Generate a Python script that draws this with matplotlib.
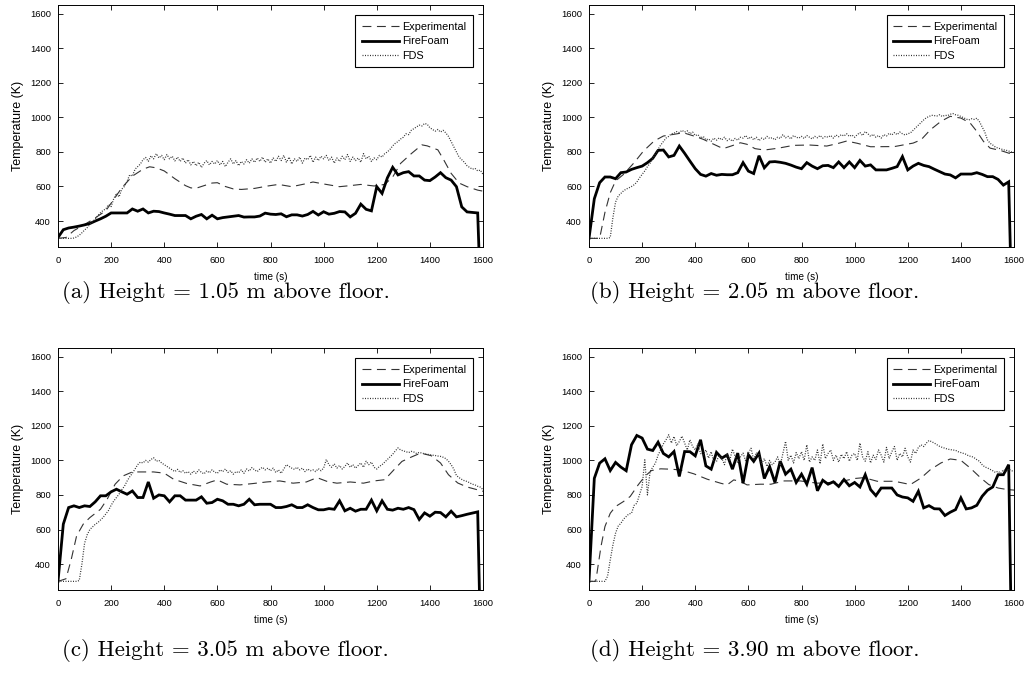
import numpy as np
import matplotlib
matplotlib.use("Agg")
import matplotlib.pyplot as plt

plt.rcParams['font.family'] = ['Liberation Sans', 'DejaVu Sans']

# experimental thermocouple readings (time s, temperature K)
exp_a_t = [0, 30, 60, 100, 140, 180, 210, 240, 280, 320, 345, 370, 400, 440, 480, 500, 520, 550, 580, 600,
           630, 660, 690, 740, 790, 830, 880, 930, 960, 1010, 1060, 1100, 1140, 1190, 1230, 1260, 1290, 1330, 1370, 1390,
           1430, 1450, 1480, 1510, 1540, 1580, 1600]
exp_a = [300, 305, 345, 380, 418, 460, 525, 592, 660, 700, 714, 708, 690, 645, 605, 592, 590, 605, 620, 622,
         600, 586, 583, 589, 603, 612, 599, 615, 626, 612, 599, 605, 612, 603, 612, 655, 734, 790, 841, 835,
         812, 760, 676, 620, 599, 579, 573]

exp_b_t = [0, 40, 60, 80, 100, 130, 170, 205, 245, 280, 320, 355, 395, 430, 470, 505, 535, 570, 595, 625,
           660, 710, 770, 830, 895, 940, 970, 1010, 1060, 1150, 1220, 1250, 1285, 1325, 1360, 1400, 1435, 1460, 1485, 1510,
           1550, 1600]
exp_b = [300, 300, 450, 564, 632, 670, 738, 805, 863, 892, 902, 911, 892, 873, 844, 819, 834, 853, 844, 819,
         811, 821, 838, 840, 834, 850, 863, 850, 830, 831, 851, 870, 928, 977, 1006, 996, 967, 919, 861, 822,
         808, 783]

exp_c_t = [0, 30, 50, 70, 95, 120, 160, 185, 215, 245, 280, 310, 360, 400, 435, 485, 535, 575, 600, 635,
           685, 735, 785, 835, 885, 935, 975, 1015, 1050, 1100, 1150, 1190, 1230, 1265, 1295, 1330, 1365, 1405, 1440, 1470,
           1505, 1540, 1600]
exp_c = [300, 315, 428, 563, 631, 669, 717, 775, 862, 910, 933, 933, 933, 926, 891, 866, 852, 875, 887, 862,
         858, 866, 875, 881, 868, 875, 900, 877, 868, 875, 868, 881, 888, 946, 994, 1019, 1042, 1027, 985, 917,
         869, 846, 821]

exp_d_t = [0, 25, 30, 45, 60, 80, 100, 130, 155, 185, 210, 235, 270, 305, 345, 395, 445, 495, 520, 545,
           570, 595, 645, 685, 735, 795, 860, 910, 960, 1000, 1035, 1085, 1150, 1210, 1250, 1285, 1325, 1360, 1400, 1435,
           1475, 1505, 1540, 1575, 1600]
exp_d = [300, 300, 347, 501, 617, 694, 733, 762, 791, 858, 907, 941, 951, 949, 945, 922, 891, 868, 858, 887,
         878, 858, 862, 862, 881, 881, 868, 872, 881, 895, 900, 879, 879, 860, 898, 946, 985, 1008, 1000, 956,
         898, 860, 840, 831, 828]

# FireFoam output every 20 s (0..1580 s), last sample at 1590 s drops off
ff_t = list(range(0, 1600, 20)) + [1590]
ff_a = [305, 350, 360, 365, 371, 378, 386, 400, 413, 428,
        447, 447, 447, 447, 470, 457, 470, 447, 457, 455,
        447, 440, 432, 432, 432, 413, 428, 438, 413, 434,
        413, 420, 424, 428, 432, 423, 424, 424, 429, 446,
        440, 438, 442, 425, 436, 436, 429, 438, 456, 435,
        454, 440, 445, 455, 453, 424, 445, 498, 468, 459,
        599, 560, 650, 711, 667, 680, 686, 661, 661, 637,
        634, 655, 680, 651, 637, 599, 482, 453, 450, 447,
        0]
ff_b = [300, 529, 622, 655, 655, 645, 680, 684, 699, 709,
        718, 738, 763, 809, 811, 771, 780, 834, 792, 747,
        703, 670, 660, 675, 665, 670, 668, 668, 680, 738,
        689, 675, 778, 708, 742, 744, 740, 734, 724, 712,
        703, 738, 718, 703, 720, 722, 709, 742, 709, 742,
        709, 751, 718, 725, 696, 696, 696, 705, 715, 773,
        696, 718, 734, 722, 715, 700, 686, 672, 667, 650,
        672, 672, 672, 680, 670, 657, 657, 641, 608, 627,
        0]
ff_c = [300, 631, 727, 737, 727, 737, 733, 760, 795, 795,
        818, 833, 818, 804, 823, 785, 785, 875, 781, 800,
        795, 760, 795, 795, 770, 770, 770, 789, 752, 756,
        775, 766, 746, 746, 737, 746, 775, 743, 746, 746,
        746, 727, 727, 733, 743, 727, 727, 743, 727, 714,
        714, 721, 717, 766, 708, 723, 706, 717, 717, 770,
        708, 766, 717, 712, 723, 717, 727, 715, 658, 696,
        677, 700, 698, 673, 706, 673, 680, 688, 695, 702,
        0]
ff_d = [300, 896, 984, 1009, 941, 988, 961, 940, 1090, 1144,
        1129, 1065, 1057, 1105, 1040, 1020, 1051, 907, 1051, 1050,
        1026, 1119, 968, 949, 1046, 1013, 1032, 949, 1042, 868,
        1032, 994, 1042, 895, 964, 872, 995, 920, 949, 872,
        920, 862, 958, 824, 885, 862, 876, 849, 889, 853,
        872, 846, 917, 831, 796, 840, 840, 840, 800, 788,
        783, 763, 821, 725, 738, 720, 719, 681, 700, 715,
        783, 719, 725, 740, 792, 827, 846, 917, 917, 975,
        0]

# FDS device output every 10 s (0..1600 s)
fds_a = [300, 300, 300, 300, 300, 300, 302, 308, 318, 332,
         348, 362, 380, 398, 410, 432, 448, 462, 470, 495,
         484, 530, 560, 540, 585, 600, 630, 668, 660, 700,
         715, 730, 755, 768, 745, 778, 760, 790, 765, 780,
         755, 785, 760, 775, 748, 770, 745, 765, 735, 755,
         725, 745, 720, 740, 710, 735, 750, 725, 745, 730,
         750, 725, 745, 715, 740, 760, 730, 750, 720, 745,
         730, 755, 735, 760, 740, 765, 745, 770, 740, 760,
         735, 765, 745, 775, 750, 780, 740, 770, 730, 760,
         745, 770, 735, 765, 755, 780, 740, 770, 750, 775,
         760, 780, 750, 770, 735, 765, 745, 775, 755, 785,
         745, 770, 750, 765, 740, 790, 760, 775, 745, 765,
         755, 780, 770, 790, 800, 815, 835, 850, 860, 875,
         885, 905, 900, 925, 935, 945, 955, 950, 965, 960,
         940, 930, 920, 930, 915, 925, 910, 890, 860, 830,
         800, 770, 755, 740, 720, 710, 700, 705, 690, 695,
         670]
fds_b = [300, 300, 300, 300, 300, 300, 300, 300, 305, 420,
         510, 545, 560, 575, 585, 592, 600, 610, 625, 650,
         670, 690, 715, 735, 760, 790, 815, 840, 860, 880,
         890, 905, 908, 918, 912, 925, 915, 922, 905, 915,
         895, 900, 880, 890, 870, 875, 862, 880, 868, 882,
         870, 885, 865, 875, 862, 878, 868, 885, 880, 895,
         875, 888, 870, 885, 865, 880, 872, 890, 878, 882,
         870, 885, 878, 900, 882, 890, 875, 895, 885, 880,
         890, 878, 895, 885, 875, 890, 882, 895, 880, 890,
         885, 895, 880, 898, 888, 900, 892, 905, 890, 898,
         885, 900, 912, 895, 918, 905, 890, 902, 885, 895,
         880, 900, 892, 908, 898, 912, 900, 915, 905, 898,
         905, 910, 925, 940, 955, 970, 985, 998, 1005, 1012,
         1010, 1008, 1015, 1005, 1012, 1010, 1018, 1022, 1015, 1012,
         1005, 998, 990, 985, 992, 988, 995, 975, 945, 915,
         870, 850, 840, 828, 822, 818, 812, 810, 805, 800,
         797]
fds_c = [300, 300, 300, 300, 300, 300, 300, 300, 305, 400,
         520, 570, 600, 615, 630, 640, 655, 670, 690, 710,
         740, 765, 785, 805, 830, 850, 880, 905, 925, 950,
         975, 990, 985, 1000, 990, 1005, 1015, 995, 1000, 985,
         975, 965, 955, 945, 935, 948, 930, 940, 925, 935,
         920, 938, 925, 945, 930, 922, 940, 928, 945, 932,
         925, 945, 935, 950, 930, 940, 920, 935, 928, 945,
         925, 950, 938, 958, 945, 935, 950, 960, 945, 955,
         940, 955, 930, 945, 925, 950, 975, 965, 955, 948,
         960, 945, 955, 935, 950, 940, 945, 935, 952, 940,
         955, 1005, 975, 960, 980, 955, 970, 950, 965, 985,
         960, 975, 955, 970, 985, 960, 995, 975, 990, 960,
         950, 965, 975, 990, 1005, 1020, 1035, 1055, 1072, 1060,
         1055, 1050, 1045, 1052, 1048, 1040, 1046, 1042, 1038, 1035,
         1033, 1030, 1028, 1025, 1023, 1018, 1010, 995, 975, 950,
         912, 900, 890, 882, 878, 870, 862, 858, 850, 845,
         831]
fds_d = [300, 300, 300, 300, 300, 300, 300, 330, 424, 510,
         579, 620, 636, 660, 675, 690, 694, 740, 752, 800,
         849, 1003, 800, 936, 960, 984, 1030, 1061, 1095, 1119,
         1148, 1100, 1138, 1085, 1109, 1140, 1100, 1060, 1119, 1080,
         1061, 1095, 1040, 1032, 1060, 1013, 1050, 990, 994, 1030,
         1013, 975, 1042, 1000, 1065, 1023, 985, 1020, 1042, 995,
         1042, 1070, 1003, 1045, 1032, 980, 1010, 965, 1000, 975,
         990, 1020, 970, 1040, 1110, 1000, 1030, 985, 1045, 1010,
         1050, 1000, 1090, 990, 1020, 1000, 1060, 980, 1095, 1010,
         1040, 1060, 1000, 1030, 990, 1035, 1010, 1050, 995, 1030,
         1040, 1000, 1100, 1020, 995, 1050, 985, 1030, 1005, 1060,
         1030, 990, 1075, 1010, 1050, 1080, 1000, 1040, 1020, 1070,
         1020, 990, 1060, 1040, 1075, 1090, 1080, 1100, 1115, 1108,
         1100, 1090, 1081, 1075, 1070, 1065, 1062, 1060, 1058, 1050,
         1045, 1040, 1035, 1025, 1023, 1015, 1004, 995, 975, 962,
         956, 948, 940, 930, 937, 925, 946, 935, 950, 940,
         937]

captions = ["(a) Height = 1.05 m above floor.",
            "(b) Height = 2.05 m above floor.",
            "(c) Height = 3.05 m above floor.",
            "(d) Height = 3.90 m above floor."]

x_ticks = list(range(0, 1601, 200))
y_ticks = list(range(400, 1601, 200))


def draw_panel(ax, exp_t, exp_T, ff_T, fds_T):
    ax.plot(exp_t, exp_T, color='0.2', lw=0.8, dashes=(8, 5), label='Experimental')
    ax.plot(ff_t, ff_T, color='black', lw=2.0, solid_joinstyle='miter', label='FireFoam')
    fds_t = np.arange(len(fds_T)) * 10
    ax.plot(fds_t, fds_T, color='0.2', lw=0.9, dashes=(0.8, 1.2), label='FDS')

    ax.set_xlim(0, 1600)
    ax.set_ylim(250, 1650)
    ax.set_xticks(x_ticks)
    ax.set_yticks(y_ticks)
    ax.tick_params(direction='in', top=True, right=True, length=3.5, width=0.6,
                   labelsize=6.8, pad=5)
    ax.tick_params(axis='x', pad=6.5)
    for s in ax.spines.values():
        s.set_linewidth(0.7)
    ax.set_xlabel('time (s)', fontsize=7.2, labelpad=5)
    ax.set_ylabel('Temperature (K)', fontsize=9, labelpad=4)
    leg = ax.legend(loc='upper right', fontsize=7.8, frameon=True, fancybox=False,
                    edgecolor='black', framealpha=1, handlelength=3.4, handletextpad=0.3,
                    borderpad=0.6, labelspacing=0.42, borderaxespad=0.95)
    leg.get_frame().set_linewidth(0.8)


def main():
    fig = plt.figure(figsize=(10.29, 6.81), dpi=100)
    W, H = 1029, 681
    boxes = [(58, 5), (589, 5), (58, 348), (589, 348)]
    series = [(exp_a_t, exp_a, ff_a, fds_a),
              (exp_b_t, exp_b, ff_b, fds_b),
              (exp_c_t, exp_c, ff_c, fds_c),
              (exp_d_t, exp_d, ff_d, fds_d)]
    cap_y = [292, 292, 651, 651]
    cap_x = [62, 590, 62, 590]

    for i, ((left, top), data) in enumerate(zip(boxes, series)):
        ax = fig.add_axes([left / W, 1 - (top + 242) / H, 425 / W, 242 / H])
        draw_panel(ax, *data)
        fig.text(cap_x[i] / W, 1 - cap_y[i] / H, captions[i], family='cmr10',
                 fontsize=16.5, ha='left', va='center')

    fig.savefig('out.png', dpi=100)


if __name__ == '__main__':
    main()
